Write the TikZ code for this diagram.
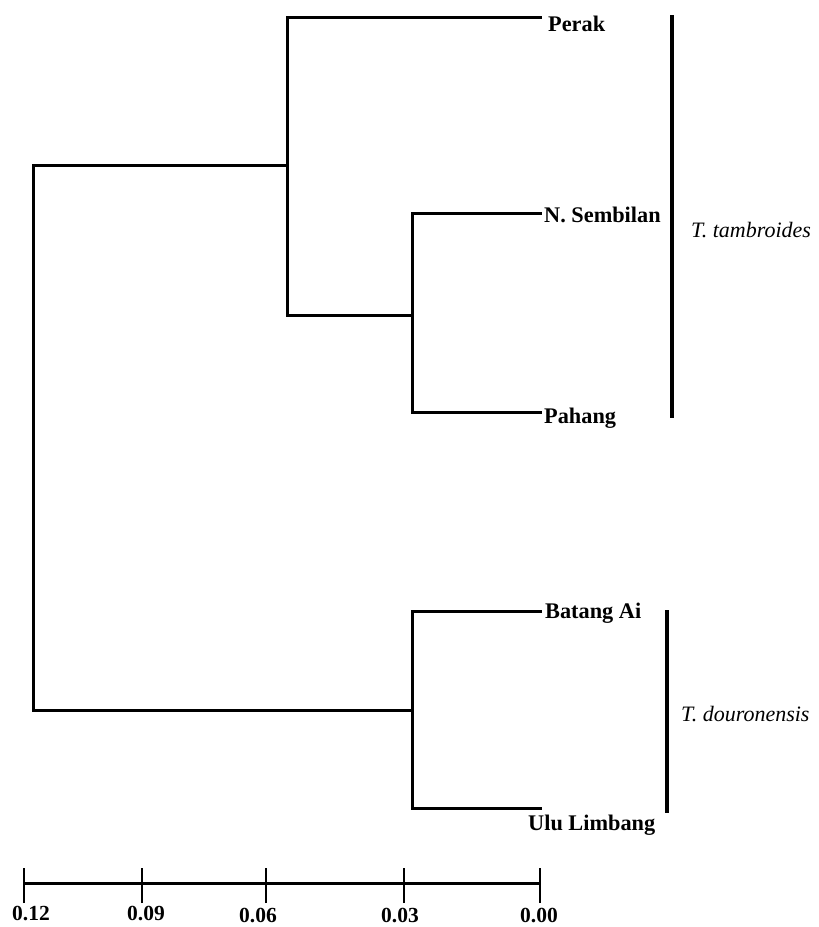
\documentclass[tikz,border=0pt]{standalone}
\usepackage{fontspec}
\setmainfont{Liberation Serif}
\begin{document}
\begin{tikzpicture}[x=1pt,y=-1pt,
  branch/.style={line width=3pt,line cap=rect},
  bar/.style={line width=4.8pt},
  leaf/.style={font=\fontsize{22.3}{26}\selectfont\bfseries,inner sep=0pt,anchor=base west},
  clade/.style={font=\fontsize{22}{26}\selectfont\itshape,inner sep=0pt,anchor=base west},
  scalelab/.style={font=\fontsize{21.5}{25}\selectfont\bfseries,inner sep=0pt,anchor=base},
  tick/.style={line width=2.6pt}]
\useasboundingbox (0,0) rectangle (819,927);
% internal nodes
\coordinate (root) at (33,437);
\coordinate (A) at (287,165);
\coordinate (B) at (412,315);
\coordinate (C) at (412,710);
% leaf end points
\coordinate (pe) at (540,17);
\coordinate (ns) at (540,213);
\coordinate (ph) at (540,412);
\coordinate (ba) at (540,611);
\coordinate (ul) at (540,808);
% labels
\node[leaf] (lpe) at (548,31) {Perak};
\node[leaf] (lns) at (544,222) {N. Sembilan};
\node[leaf] (lph) at (544,423) {Pahang};
\node[leaf] (lba) at (545,618) {Batang Ai};
\node[leaf] (lul) at (528,830) {Ulu Limbang};
% tree
\draw[branch] (A |- 0,165) -- (33,165) -- (33,710) -- (C);
\draw[branch] (pe) -- (A |- pe) -- (A |- B) -- (B);
\draw[branch] (ns) -- (B |- ns) -- (B |- ph) -- (ph);
\draw[branch] (ba) -- (C |- ba) -- (C |- ul) -- (ul);
% clade bars
\coordinate (t1) at (672,15);
\coordinate (t2) at (672,418);
\coordinate (d1) at (667,610);
\coordinate (d2) at (667,813);
\draw[bar] (t1) -- (t2);
\draw[bar] (d1) -- (d2);
\node[clade] (ctam) at (691,237) {T. tambroides};
\node[clade] (cdou) at (681,721) {T. douronensis};
% scale bar
\coordinate (s0) at (24,883);
\coordinate (s1) at (142,883);
\coordinate (s2) at (266,883);
\coordinate (s3) at (404,883);
\coordinate (s4) at (540,883);
\draw[branch,line cap=butt] (s0) -- (s4);
\foreach \p in {s0,s1,s2,s3,s4} \draw[tick] ([yshift=-20pt]\p) -- ([yshift=15pt]\p);
\node[scalelab] (l0) at (31,920) {0.12};
\node[scalelab] (l1) at (146,920) {0.09};
\node[scalelab] (l2) at (258,922) {0.06};
\node[scalelab] (l3) at (400,922) {0.03};
\node[scalelab] (l4) at (539,922) {0.00};
\end{tikzpicture}
\end{document}
